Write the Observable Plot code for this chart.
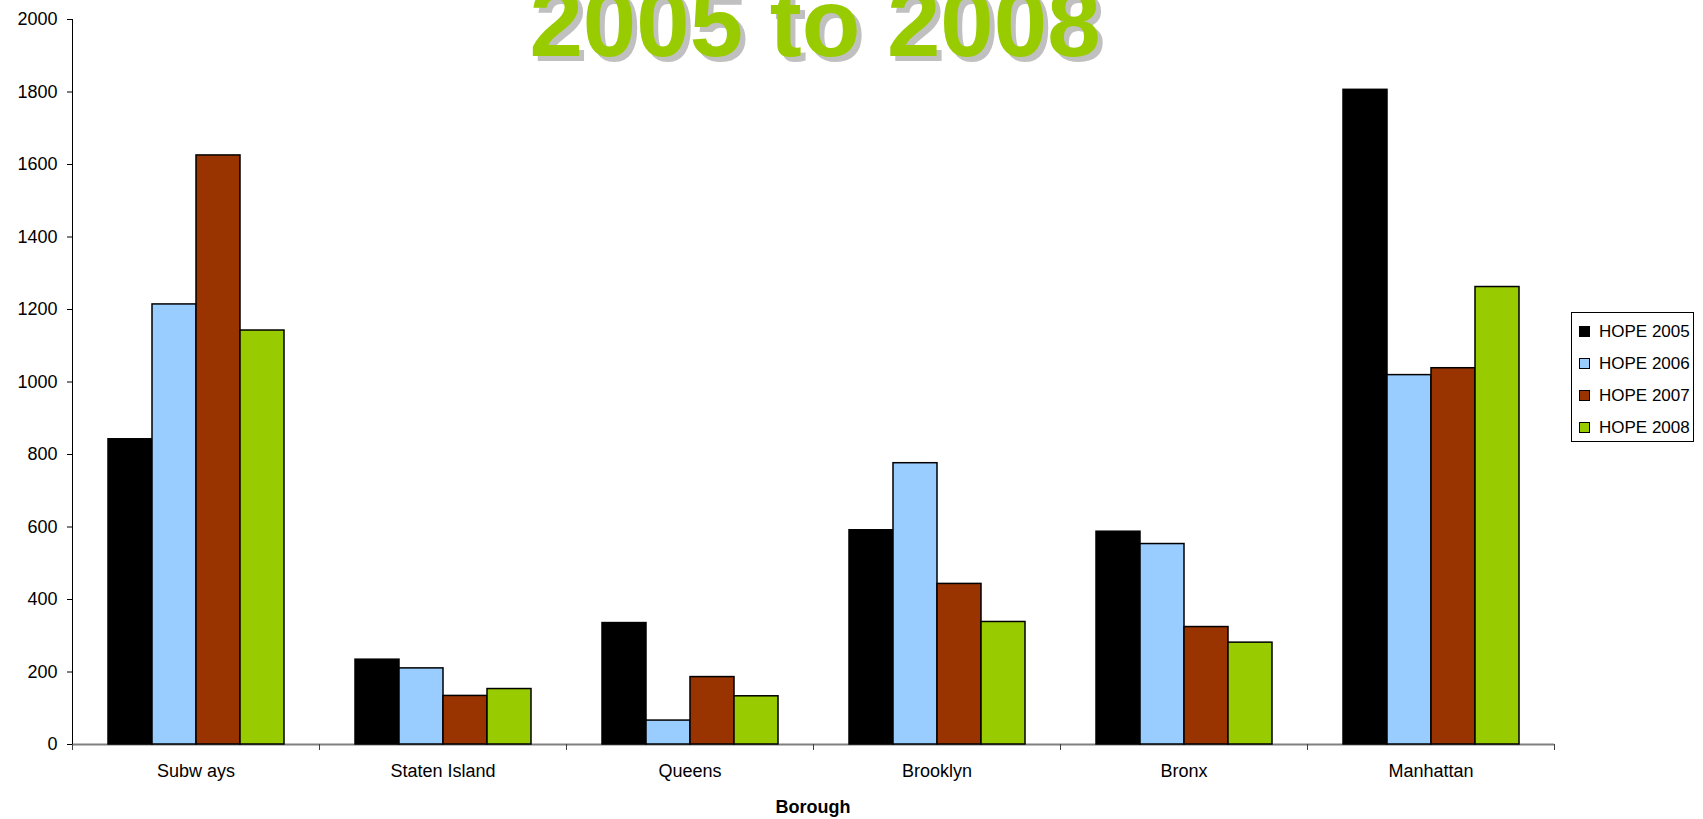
<!DOCTYPE html>
<html>
<head>
<meta charset="utf-8">
<script src="https://cdn.jsdelivr.net/npm/d3@7"></script>
<script src="https://cdn.jsdelivr.net/npm/@observablehq/plot@0.6"></script>
<style>
  html, body { margin: 0; padding: 0; background: #fff; }
  #wrap { position: relative; width: 1703px; height: 819px; overflow: hidden; font-family: "Liberation Sans", Arial, sans-serif; }
  #title { position: absolute; left: 315px; width: 1000px; top: -25px; text-align: center;
           font: bold 96px/1 "Liberation Sans", Arial, sans-serif; color: #99CC00;
           text-shadow: 5px 5px 0 #C0C0C0; white-space: nowrap; }
  #xlabel { position: absolute; left: 613px; width: 400px; top: 798px; text-align: center;
            font: bold 18px/1 "Liberation Sans", Arial, sans-serif; color: #000; }
  #legend { position: absolute; left: 1571px; top: 312px; width: 121px; height: 128px;
            border: 1px solid #000; background: #fff; box-sizing: content-box; }
  .item { position: absolute; left: 7px; height: 20px; display: flex; align-items: center;
          font: 17px/1 "Liberation Sans", Arial, sans-serif; color: #000; }
  .sw { width: 9px; height: 9px; border: 1px solid #000; margin-right: 9px; }
</style>
</head>
<body>
<div id="wrap">
  <div id="chart"></div>
  <div id="title">2005 to 2008</div>
  <div id="xlabel">Borough</div>
  <div id="legend"></div>
</div>
<script>
// ---- data ----
const boroughs = ["Subways", "Staten Island", "Queens", "Brooklyn", "Bronx", "Manhattan"];
const boroughLabels = ["Subw ays", "Staten Island", "Queens", "Brooklyn", "Bronx", "Manhattan"];
const series = ["HOPE 2005", "HOPE 2006", "HOPE 2007", "HOPE 2008"];
const hope2005 = [842, 234, 335, 591, 587, 1806];
const hope2006 = [1214, 210, 66, 776, 553, 1019];
const hope2007 = [1625, 134, 186, 443, 324, 1038];
const hope2008 = [1142, 153, 133, 338, 281, 1262];
const colors = ["#000000", "#99CCFF", "#993300", "#99CC00"];
const yTicks = [0, 200, 400, 600, 800, 1000, 1200, 1400, 1600, 1800, 2000];

const valuesBySeries = [hope2005, hope2006, hope2007, hope2008];
const table = boroughs.flatMap((b, i) =>
  series.map((s, j) => ({borough: b, series: s, value: valuesBySeries[j][i]})));

// Axis lines, drawn in each facet's local frame from Plot's scales.
// (Rendered once per facet; the y-axis line only in the first, leftmost facet.)
let facetCall = 0;
function axisLines(index, scales, values, dims) {
  const {width, height, marginLeft, marginRight, marginTop, marginBottom} = dims;
  const g = d3.create("svg:g");
  const y0 = scales.y ? scales.y(0) : height - marginBottom;
  const yTop = scales.y ? scales.y(yTicks[yTicks.length - 1]) : marginTop;
  let bw;
  if (scales.fx) {
    bw = typeof scales.fx.bandwidth === "function" ? scales.fx.bandwidth() : scales.fx.bandwidth;
  } else {
    bw = (width - marginLeft - marginRight) / boroughs.length;
  }
  const x0 = marginLeft, x1 = marginLeft + bw;
  g.append("line").attr("x1", x0).attr("x2", x1)
    .attr("y1", y0 + 0.5).attr("y2", y0 + 0.5).attr("stroke", "#808080").attr("stroke-width", 2);
  g.selectAll(null).data([x0, x1]).join("line")
    .attr("x1", d => Math.round(d) + 0.5).attr("x2", d => Math.round(d) + 0.5)
    .attr("y1", y0).attr("y2", y0 + 6).attr("stroke", "#404040").attr("stroke-width", 1);
  if (facetCall === 0) {
    g.append("line").attr("x1", Math.round(x0) + 0.5).attr("x2", Math.round(x0) + 0.5)
      .attr("y1", yTop).attr("y2", y0).attr("stroke", "#000").attr("stroke-width", 1);
  }
  facetCall++;
  return g.node();
}

const chart = Plot.plot({
  width: 1703,
  height: 819,
  marginLeft: 70,
  marginRight: 147,
  marginTop: 19,
  marginBottom: 75,
  style: {fontFamily: "'Liberation Sans', Arial, sans-serif", fontSize: "18px", color: "#000", background: "transparent"},
  fx: {domain: boroughs, padding: 0},
  x: {domain: series, paddingInner: 0, paddingOuter: 0.75, axis: null},
  y: {domain: [0, 2000]},
  color: {domain: series, range: colors},
  marks: [
    axisLines,
    Plot.barY(table, {fx: "borough", x: "series", y: "value", fill: "series", stroke: "#000", strokeWidth: 1.5}),
    Plot.axisY({ticks: yTicks, tickFormat: d3.format("d"), tickSize: 5, tickPadding: 10,
                fontSize: 18, label: null, stroke: "#000"}),
    Plot.axisFx({anchor: "bottom", tickSize: 0, tickPadding: 20, fontSize: 18, label: null,
                 tickFormat: d => boroughLabels[boroughs.indexOf(d)]})
  ]
});
document.getElementById("chart").appendChild(chart);

// legend
const legend = document.getElementById("legend");
series.forEach((s, i) => {
  const item = document.createElement("div");
  item.className = "item";
  item.style.top = (8 + i * 32) + "px";
  const sw = document.createElement("span");
  sw.className = "sw";
  sw.style.background = colors[i];
  const t = document.createElement("span");
  t.textContent = s;
  item.appendChild(sw);
  item.appendChild(t);
  legend.appendChild(item);
});
</script>
</body>
</html>
